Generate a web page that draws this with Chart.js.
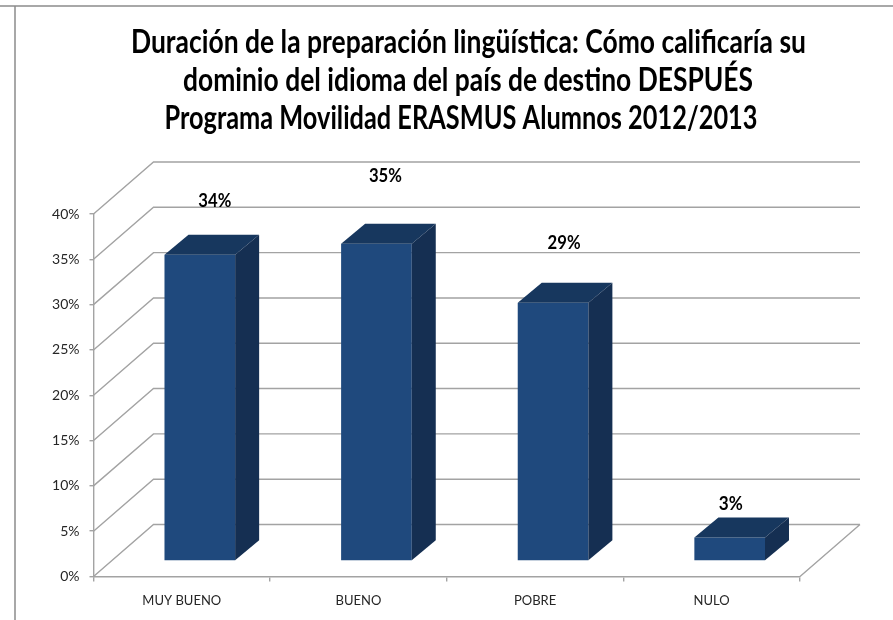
<!DOCTYPE html>
<html><head><meta charset="utf-8">
<style>html,body{margin:0;padding:0;background:#fff}canvas{display:block}</style>
<script src="https://cdn.jsdelivr.net/npm/chart.js@4"></script>
</head><body>
<canvas id="c" width="893" height="620"></canvas>
<script>
const categories = ['MUY BUENO','BUENO','POBRE','NULO'];
const seriesValues = [33.8, 35.0, 28.5, 2.6];
const titleLines = ['Duración de la preparación lingüística: Cómo calificaría su','dominio del idioma del país de destino DESPUÉS','Programa Movilidad ERASMUS Alumnos 2012/2013'];

const TITLE_BOX = [{x:468.5,y:42,w:675},{x:468,y:80,w:570},{x:461,y:118,w:593}];
const WALL = {dx:60, dy:-52};
const PLANE = {dx:18, dy:-15.5};
const DEPTH = {dx:24, dy:-20};
const LABEL_LIFT = [54,68,60,33];
const LABEL_SHIFT = [15,9,11,1];
const GRID = '#a3a3a3', FRONT = '#1f497d', TOP = '#17375e', SIDE = '#152f52';

const wallPlugin = {
  id:'wall',
  beforeDraw(chart){
    const c = chart.ctx;
    c.save(); c.strokeStyle='#8c8c8c'; c.lineWidth=1.5;
    c.beginPath(); c.moveTo(0,6); c.lineTo(893,6); c.moveTo(15,6); c.lineTo(15,620); c.stroke();
    c.fillStyle='#000'; c.font='bold 33px Lato'; c.textAlign='center'; c.textBaseline='middle';
    titleLines.forEach((t,i)=>c.fillText(t,TITLE_BOX[i].x,TITLE_BOX[i].y,TITLE_BOX[i].w));
    c.restore();
  },
  beforeDatasetsDraw(chart){
    const c = chart.ctx, y = chart.scales.y, x = chart.scales.x;
    c.save(); c.strokeStyle=GRID; c.lineWidth=1.4;
    c.beginPath();
    y.ticks.forEach(t=>{
      const p = y.getPixelForValue(t.value);
      c.moveTo(x.left,p); c.lineTo(x.left+WALL.dx,p+WALL.dy); c.lineTo(x.right+WALL.dx,p+WALL.dy);
    });
    const b = y.getPixelForValue(0);
    c.moveTo(x.right+WALL.dx,b+WALL.dy); c.lineTo(x.right,b);
    c.stroke(); c.restore();
    c.save(); c.translate(PLANE.dx,PLANE.dy);
  },
  afterDatasetsDraw(chart){
    const c = chart.ctx;
    chart.getDatasetMeta(0).data.forEach(bar=>{
      const l = bar.x-bar.width/2, r = bar.x+bar.width/2, t = bar.y, b = bar.base;
      c.fillStyle=TOP; c.beginPath();
      c.moveTo(l,t); c.lineTo(l+DEPTH.dx,t+DEPTH.dy); c.lineTo(r+DEPTH.dx,t+DEPTH.dy); c.lineTo(r,t); c.closePath(); c.fill();
      c.fillStyle=SIDE; c.beginPath();
      c.moveTo(r,t); c.lineTo(r+DEPTH.dx,t+DEPTH.dy); c.lineTo(r+DEPTH.dx,b+DEPTH.dy); c.lineTo(r,b); c.closePath(); c.fill();
    });
    c.restore();
    c.save();
    c.fillStyle='#000'; c.font='bold 18px Lato'; c.textAlign='center'; c.textBaseline='middle';
    chart.getDatasetMeta(0).data.forEach((bar,i)=>{
      const s = Math.round(seriesValues[i])+'%';
      c.fillText(s, bar.x+PLANE.dx+LABEL_SHIFT[i], bar.y+PLANE.dy-LABEL_LIFT[i], s.length>2?33:24);
    });
    c.restore();
  }
};

new Chart(document.getElementById('c'),{
  type:'bar',
  data:{labels:categories,datasets:[{data:seriesValues,backgroundColor:FRONT,borderWidth:0,barPercentage:0.4,categoryPercentage:1}]},
  options:{
    responsive:false,animation:false,
    layout:{padding:{left:0,right:93,top:214,bottom:0}},
    plugins:{legend:{display:false},tooltip:{enabled:false},title:{display:false}},
    scales:{
      x:{
        afterFit(s){s.height=43.5;},
        grid:{drawOnChartArea:false,drawTicks:true,tickLength:5,color:GRID,lineWidth:1.4},
        border:{color:GRID,width:1.4},
        ticks:{color:'#262626',font:{family:'Lato',size:13},padding:12,maxRotation:0}
      },
      y:{
        min:0,max:40,
        afterFit(s){s.width=93.5;},
        grid:{drawOnChartArea:false,drawTicks:true,tickLength:4,color:GRID,lineWidth:1.4},
        border:{color:GRID,width:1.4},
        ticks:{stepSize:5,color:'#262626',font:{family:'Lato',size:14},padding:10,callback:v=>v+'%'}
      }
    }
  },
  plugins:[wallPlugin]
});
</script>
</body></html>
